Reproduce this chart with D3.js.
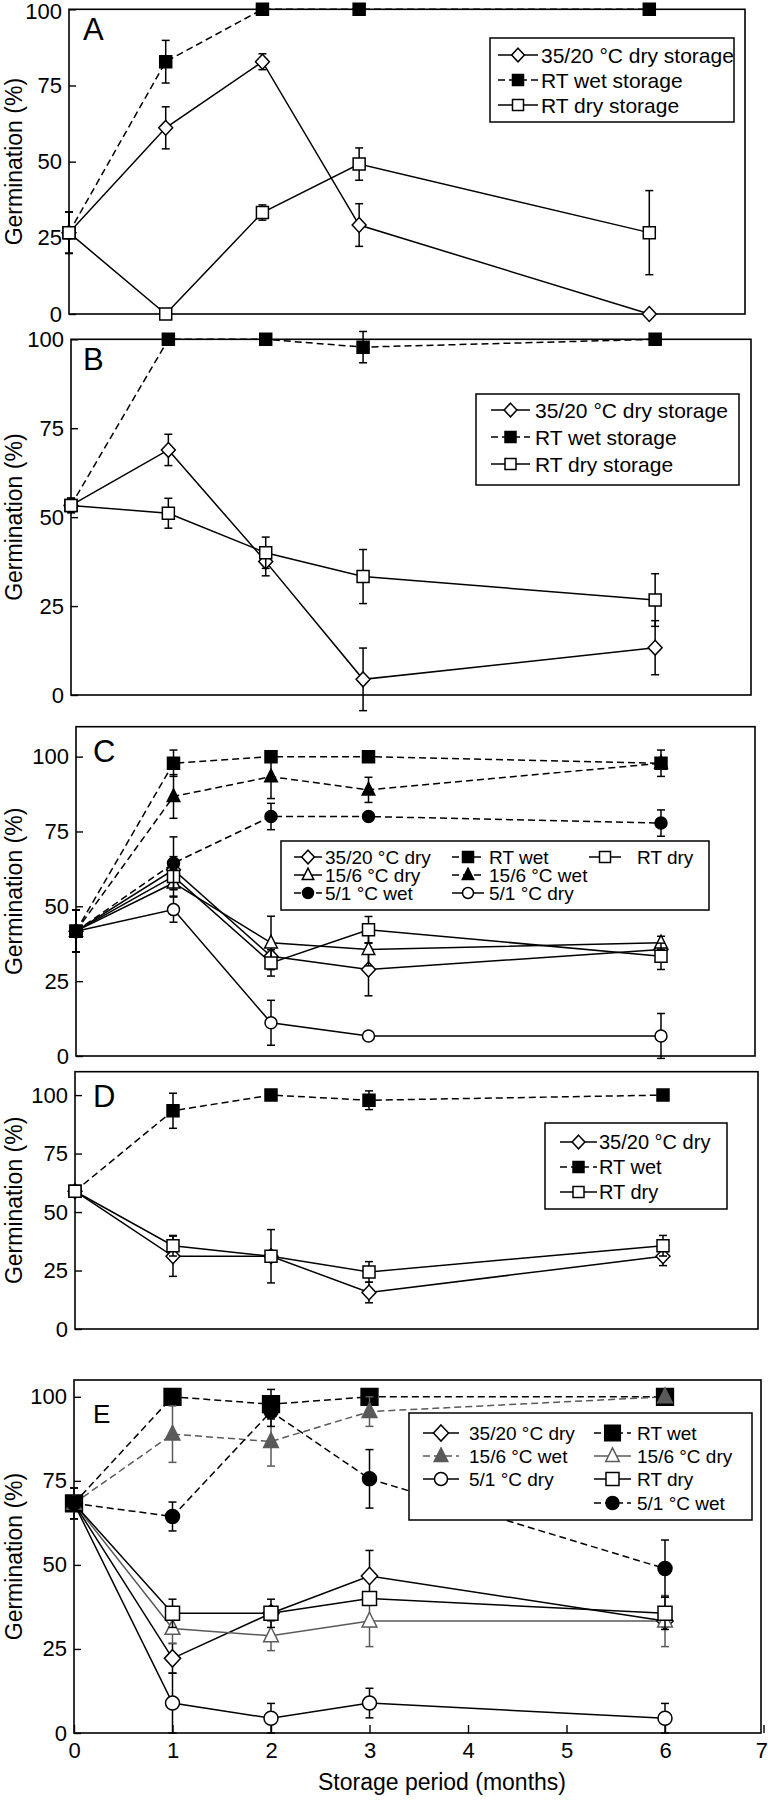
<!DOCTYPE html>
<html><head><meta charset="utf-8">
<script src="https://cdn.jsdelivr.net/npm/d3@7"></script>
<style>body{margin:0;background:#fff} text{font-family:"Liberation Sans",Arial,Helvetica,sans-serif;fill:#000}</style>
</head><body><svg id="c" width="768" height="1800" xmlns="http://www.w3.org/2000/svg"></svg>
<script>
// ---------------- DATA ----------------
const months = [0, 1, 2, 3, 6];
const xTicks = [0, 1, 2, 3, 4, 5, 6, 7];
const yTicks = [0, 25, 50, 75, 100];
const panelLetters = ["A", "B", "C", "D", "E"];
const yTitle = "Germination (%)";
const xTitle = "Storage period (months)";

// Panel A
const A_dry3520 = [26.7, 61.1, 82.8, 29.2, 0];
const A_dry3520_err = [6.8, 6.9, 2.6, 7.0, 0];
const A_wetRT = [26.7, 82.8, 100, 100, 100];
const A_wetRT_err = [6.8, 7.0, 0, 0, 0];
const A_dryRT = [26.7, 0, 33.3, 49.2, 26.7];
const A_dryRT_err = [6.8, 0, 2.5, 5.3, 13.8];

// Panel B
const B_dry3520 = [53.3, 68.9, 37.5, 4.4, 13.3];
const B_dry3520_err = [2.0, 4.4, 4.0, 8.8, 7.6];
const B_wetRT = [53.3, 100, 100, 97.8, 100];
const B_wetRT_err = [2.0, 0, 0, 4.4, 0];
const B_dryRT = [53.3, 51.1, 40.0, 33.3, 26.7];
const B_dryRT_err = [2.0, 4.2, 4.4, 7.6, 7.4];

// Panel C
const C_dry3520 = [41.7, 62.2, 33.3, 28.9, 35.6];
const C_dry3520_err = [7.0, 4.4, 4.4, 8.8, 0];
const C_wetRT = [41.7, 97.8, 100, 100, 97.8];
const C_wetRT_err = [7.0, 4.4, 0, 0, 4.4];
const C_dryRT = [41.7, 60.0, 31.1, 42.2, 33.3];
const C_dryRT_err = [7.0, 4.4, 4.4, 4.4, 4.4];
const C_dry156 = [41.7, 57.8, 37.8, 35.6, 37.8];
const C_dry156_err = [7.0, 4.4, 8.9, 5.5, 2.2];
const C_wet156 = [41.7, 86.7, 93.3, 88.9, 97.8];
const C_wet156_err = [7.0, 7.3, 7.3, 4.2, 0];
const C_wet51 = [41.7, 64.4, 80.0, 80.0, 77.8];
const C_wet51_err = [7.0, 8.8, 4.4, 0, 4.4];
const C_dry51 = [41.7, 48.9, 11.1, 6.7, 6.7];
const C_dry51_err = [7.0, 4.2, 7.5, 0, 7.5];

// Panel D
const D_dry3520 = [58.9, 31.1, 31.1, 15.6, 31.1];
const D_dry3520_err = [0, 8.6, 0, 4.4, 4.0];
const D_wetRT = [58.9, 93.3, 100, 97.8, 100];
const D_wetRT_err = [0, 7.5, 0, 4.0, 0];
const D_dryRT = [58.9, 35.6, 31.1, 24.4, 35.6];
const D_dryRT_err = [0, 4.4, 11.4, 4.4, 4.4];

// Panel E
const E_dry3520 = [68.3, 22.2, 35.6, 46.7, 33.3];
const E_dry3520_err = [4.6, 4.4, 0, 7.6, 0];
const E_wetRT = [68.3, 100, 97.8, 100, 100];
const E_wetRT_err = [4.6, 0, 4.4, 0, 0];
const E_wet156 = [68.3, 88.9, 86.7, 95.6, 100];
const E_wet156_err = [4.6, 8.4, 7.3, 4.4, 0];
const E_dry156 = [68.3, 31.1, 28.9, 33.3, 33.3];
const E_dry156_err = [4.6, 4.4, 4.4, 7.6, 7.6];
const E_dryRT = [68.3, 35.6, 35.6, 40.0, 35.6];
const E_dryRT_err = [4.6, 4.2, 4.2, 0, 4.8];
const E_wet51 = [68.3, 64.4, 95.6, 75.6, 48.9];
const E_wet51_err = [4.6, 4.3, 4.4, 8.7, 8.5];
const E_dry51 = [68.3, 8.9, 4.4, 8.9, 4.4];
const E_dry51_err = [4.6, 8.9, 4.4, 4.4, 4.4];

// Legend labels
const longLabels = {dry3520: "35/20 \u00B0C dry storage", wetRT: "RT wet storage", dryRT: "RT dry storage"};
const shortLabels = {dry3520: "35/20 \u00B0C dry", wetRT: "RT wet", dryRT: "RT dry",
  dry156: "15/6 \u00B0C dry", wet156: "15/6 \u00B0C wet", wet51: "5/1 \u00B0C wet", dry51: "5/1 \u00B0C dry"};

// ---------------- STYLE / LAYOUT ----------------
const styles = {
  dry3520: {shape: "diamond", fill: false, dash: false},
  wetRT:   {shape: "square",  fill: true,  dash: true},
  dryRT:   {shape: "square",  fill: false, dash: false},
  dry156:  {shape: "triangle", fill: false, dash: false},
  wet156:  {shape: "triangle", fill: true,  dash: true},
  wet51:   {shape: "circle",  fill: true,  dash: true},
  dry51:   {shape: "circle",  fill: false, dash: false}
};

const panels = [
  {letter: 0, left: 69, right: 745, xr: 746, top: 9.3, bottom: 314, ymax: 100, ms: 12, xAxis: false,
   series: [["dry3520", A_dry3520, A_dry3520_err], ["wetRT", A_wetRT, A_wetRT_err], ["dryRT", A_dryRT, A_dryRT_err]],
   legend: {box: [490, 38, 244, 84], font: 21, labels: longLabels,
     cols: [[498, 538, 541]], rows: [55, 80, 105],
     items: [["dry3520", 0, 0], ["wetRT", 0, 1], ["dryRT", 0, 2]]}},
  {letter: 1, left: 71, right: 751, xr: 752.5, top: 339.3, bottom: 695, ymax: 100, ms: 12, xAxis: false,
   series: [["dry3520", B_dry3520, B_dry3520_err], ["wetRT", B_wetRT, B_wetRT_err], ["dryRT", B_dryRT, B_dryRT_err]],
   legend: {box: [476, 394, 263, 91], font: 21, labels: longLabels,
     cols: [[491, 530, 535]], rows: [410, 437, 464],
     items: [["dry3520", 0, 0], ["wetRT", 0, 1], ["dryRT", 0, 2]]}},
  {letter: 2, left: 76, right: 755, xr: 758.5, top: 726.7, bottom: 1056, ymax: 110, ms: 12, xAxis: false,
   series: [["dry3520", C_dry3520, C_dry3520_err], ["dry156", C_dry156, C_dry156_err], ["dry51", C_dry51, C_dry51_err],
            ["dryRT", C_dryRT, C_dryRT_err], ["wet51", C_wet51, C_wet51_err], ["wet156", C_wet156, C_wet156_err],
            ["wetRT", C_wetRT, C_wetRT_err]],
   legend: {box: [281, 841, 428, 69], font: 19, labels: shortLabels,
     cols: [[294, 322, 325], [452, 484, 489], [589, 621, 637]], rows: [857, 875, 893],
     items: [["dry3520", 0, 0], ["wetRT", 1, 0], ["dryRT", 2, 0], ["dry156", 0, 1], ["wet156", 1, 1],
             ["wet51", 0, 2], ["dry51", 1, 2]]}},
  {letter: 3, left: 75, right: 758, xr: 761, top: 1071.7, bottom: 1329, ymax: 110, ms: 12, xAxis: false,
   series: [["dry3520", D_dry3520, D_dry3520_err], ["wetRT", D_wetRT, D_wetRT_err], ["dryRT", D_dryRT, D_dryRT_err]],
   legend: {box: [545, 1123, 182, 86], font: 20, labels: shortLabels,
     cols: [[560, 597, 599]], rows: [1142, 1167, 1192],
     items: [["dry3520", 0, 0], ["wetRT", 0, 1], ["dryRT", 0, 2]]}},
  {letter: 4, left: 74, right: 761, xr: 763.5, top: 1380, bottom: 1733, ymax: 105, ms: 14, xAxis: true, gray: ["dry156", "wet156"],
   series: [["dry3520", E_dry3520, E_dry3520_err], ["dry51", E_dry51, E_dry51_err], ["dry156", E_dry156, E_dry156_err],
            ["dryRT", E_dryRT, E_dryRT_err], ["wetRT", E_wetRT, E_wetRT_err], ["wet156", E_wet156, E_wet156_err],
            ["wet51", E_wet51, E_wet51_err]],
   legend: {box: [409, 1413, 343, 107], font: 19, labels: shortLabels,
     cols: [[423, 459, 469], [594, 631, 637]], rows: [1433, 1456, 1479, 1503],
     items: [["dry3520", 0, 0], ["wetRT", 1, 0], ["wet156", 0, 1], ["dry156", 1, 1], ["dry51", 0, 2], ["dryRT", 1, 2],
             ["wet51", 1, 3]]}}
];

const svg = d3.select("#c");
const FONT = '"Liberation Sans",Arial,Helvetica,sans-serif';

function markerPath(shape, s, big) {
  const p = d3.path();
  if (shape === "square") {
    const h = (big ? s * 1.2 : s) / 2;
    p.rect(-h, -h, 2 * h, 2 * h);
  } else if (shape === "diamond") {
    const w = s * 0.58, h = s * 0.62;
    p.moveTo(0, -h); p.lineTo(w, 0); p.lineTo(0, h); p.lineTo(-w, 0); p.closePath();
  } else if (shape === "triangle") {
    const w = s * 1.05, h = s * 1.05;
    p.moveTo(0, -h * 0.6); p.lineTo(w / 2, h * 0.4); p.lineTo(-w / 2, h * 0.4); p.closePath();
  } else {
    const r = s / 2;
    p.arc(0, 0, r, 0, 2 * Math.PI); p.closePath();
  }
  return p.toString();
}

function drawMarker(g, key, cx, cy, s, color, big) {
  const st = styles[key];
  g.append("path")
    .attr("d", markerPath(st.shape, s, big && st.fill))
    .attr("transform", `translate(${cx},${cy})`)
    .attr("fill", st.fill ? color : "#fff")
    .attr("stroke", color)
    .attr("stroke-width", 1.5);
}

panels.forEach(P => {
  const g = svg.append("g");
  const x = d3.scaleLinear().domain([0, 7]).range([P.left, P.xr]);
  const y = d3.scaleLinear().domain([0, P.ymax]).range([P.bottom, P.top]);
  const colorOf = k => (P.gray && P.gray.includes(k)) ? "#5a5a5a" : "#000";
  const big = P.letter === 4;

  // frame
  g.append("rect").attr("x", P.left).attr("y", P.top)
    .attr("width", P.right - P.left).attr("height", P.bottom - P.top)
    .attr("fill", "none").attr("stroke", "#000").attr("stroke-width", 1.6);

  // y axis
  const ya = g.append("g").attr("transform", `translate(${P.left},0)`)
    .call(d3.axisLeft(y).tickValues(yTicks).tickSize(-7).tickPadding(7));
  ya.select(".domain").remove();
  ya.selectAll("line").attr("stroke", "#000").attr("stroke-width", 1.4);
  ya.selectAll("text").attr("font-family", FONT).attr("font-size", 22).attr("fill", "#000");
  if (P.letter === 0) {
    ya.selectAll(".tick").filter(d => d === 100).select("text").attr("y", 2.5);
  }

  // x axis (only bottom panel)
  if (P.xAxis) {
    const xa = g.append("g").attr("transform", `translate(0,${P.bottom})`)
      .call(d3.axisBottom(x).tickValues(xTicks).tickSize(-8).tickPadding(9).tickFormat(d3.format("d")));
    xa.select(".domain").remove();
    xa.selectAll("line").attr("stroke", "#000").attr("stroke-width", 1.4);
    xa.selectAll("text").attr("font-family", FONT).attr("font-size", 22).attr("fill", "#000");
    xa.selectAll(".tick").filter(d => d === 7).select("text")
      .attr("text-anchor", "end").attr("x", 767.5 - x(7));
    g.append("text").attr("x", 442).attr("y", 1790).attr("text-anchor", "middle")
      .attr("font-size", 23).text(xTitle);
  }

  // y title
  const cy = (P.top + P.bottom) / 2;
  g.append("text").attr("transform", `translate(21.5,${cy}) rotate(-90)`)
    .attr("text-anchor", "middle").attr("font-size", 23).text(yTitle);

  // panel letter
  g.append("text").attr("x", P.letter >= 2 ? 93 : 83).attr("y", P.letter === 4 ? 1423 : P.top + (P.letter >= 2 ? 35 : 31))
    .attr("font-size", P.letter === 4 ? 26 : 31).text(panelLetters[P.letter]);

  // lines
  const line = d3.line().x((d, i) => x(months[i])).y(d => y(d));
  P.series.forEach(([k, vals]) => {
    g.append("path").datum(vals).attr("d", line)
      .attr("fill", "none").attr("stroke", colorOf(k)).attr("stroke-width", 1.5)
      .attr("stroke-dasharray", styles[k].dash ? "7,4" : null);
  });

  // error bars + markers
  P.series.forEach(([k, vals, errs]) => {
    const c = colorOf(k);
    vals.forEach((v, i) => {
      const e = errs[i];
      const cx = x(months[i]);
      if (e > 0) {
        const y1 = y(v - e), y2 = y(v + e);
        g.append("line").attr("x1", cx).attr("x2", cx).attr("y1", y1).attr("y2", y2)
          .attr("stroke", c).attr("stroke-width", 1.5);
        [y1, y2].forEach(yy => g.append("line").attr("x1", cx - 4).attr("x2", cx + 4)
          .attr("y1", yy).attr("y2", yy).attr("stroke", c).attr("stroke-width", 1.5));
      }
    });
    vals.forEach((v, i) => drawMarker(g, k, x(months[i]), y(v), P.ms, c, big));
  });

  // legend
  const L = P.legend;
  g.append("rect").attr("x", L.box[0]).attr("y", L.box[1]).attr("width", L.box[2]).attr("height", L.box[3])
    .attr("fill", "#fff").attr("stroke", "#000").attr("stroke-width", 1.5);
  L.items.forEach(([k, ci, ri]) => {
    const [sx0, sx1, tx] = L.cols[ci];
    const ry = L.rows[ri];
    const c = colorOf(k);
    g.append("line").attr("x1", sx0).attr("x2", sx1).attr("y1", ry).attr("y2", ry)
      .attr("stroke", c).attr("stroke-width", 1.5)
      .attr("stroke-dasharray", styles[k].dash ? "7,4" : null);
    drawMarker(g, k, (sx0 + sx1) / 2, ry, P.ms - 1, c, big);
    g.append("text").attr("x", tx).attr("y", ry).attr("dy", "0.36em")
      .attr("font-size", L.font).text(L.labels[k]);
  });
});
</script></body></html>
